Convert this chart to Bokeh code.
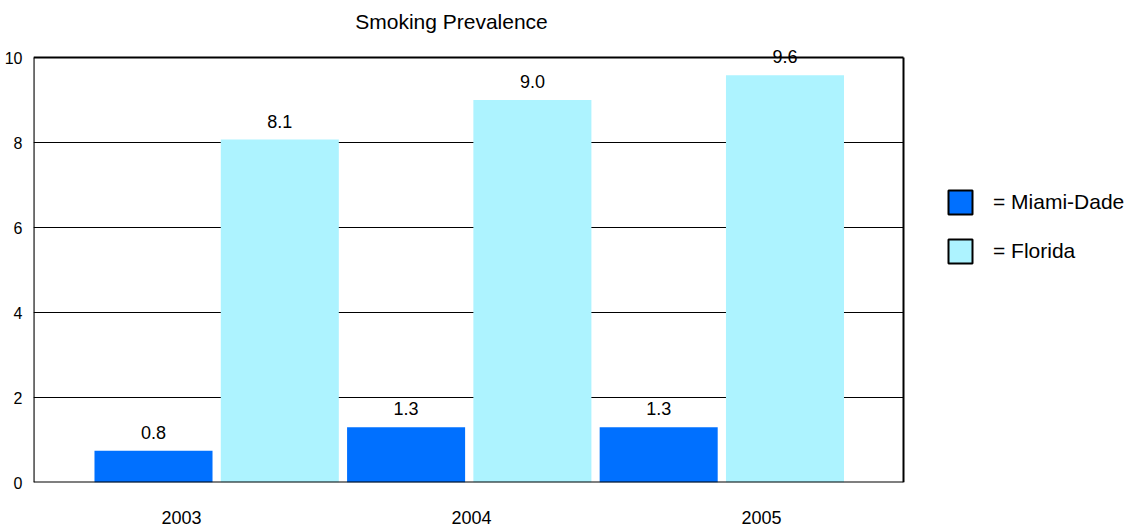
from bokeh.plotting import figure
from bokeh.models import (ColumnDataSource, FixedTicker, Legend, LegendItem,
                          LabelSet, Label, Range1d)
from bokeh.core.properties import value
from bokeh.embed import file_html
from bokeh.resources import INLINE

# ---- data ----
years = ["2003", "2004", "2005"]
miami = [0.75, 1.3, 1.3]
florida = [8.07, 9.0, 9.58]
miami_labels = ["0.8", "1.3", "1.3"]
florida_labels = ["8.1", "9.0", "9.6"]
y_ticks = [0, 2, 4, 6, 8, 10]
y_max = 10
title_text = "Smoking Prevalence"
series_names = ["= Miami-Dade", "= Florida"]

MIAMI_C = "#0070FF"
FLORIDA_C = "#ADF3FF"
FONT = "Liberation Sans"

# ---- layout (pixels) ----
W, H = 1134, 531
LEFT, BOTTOM = 33, 49
PLOT_W, PLOT_H = 870, 425          # size of the boxed chart area
frame_w, frame_h = W - LEFT, H - BOTTOM
n = len(years)
x_end = n * frame_w / PLOT_W
y_end = y_max * frame_h / PLOT_H

p = figure(width=W, height=H, output_backend="svg", toolbar_location=None,
           x_range=Range1d(0, x_end), y_range=Range1d(0, y_end),
           min_border_left=LEFT, min_border_right=0,
           min_border_top=0, min_border_bottom=BOTTOM)
p.background_fill_color = "white"
p.border_fill_color = "white"
p.outline_line_color = None

# bar layout: six evenly spaced bars
pitch = 0.4355
first = 0.4138
bw = 0.407
mx = [first + pitch * (2 * g) for g in range(n)]
fx = [first + pitch * (2 * g + 1) for g in range(n)]

ms = ColumnDataSource(dict(x=mx, top=miami, lab=miami_labels))
fs = ColumnDataSource(dict(x=fx, top=florida, lab=florida_labels))

# grid lines inside the box
inner = y_ticks[1:-1]
p.segment(x0=[0] * len(inner), x1=[n] * len(inner), y0=inner, y1=inner,
          line_color="black", line_width=1.2)

p.vbar(x="x", top="top", bottom=0, width=bw, source=ms,
       fill_color=MIAMI_C, line_color=None)
p.vbar(x="x", top="top", bottom=0, width=bw, source=fs,
       fill_color=FLORIDA_C, line_color=None)

# box: top and right border, left and bottom axis lines
p.segment(x0=[0, n], x1=[n, n], y0=[y_max, 0], y1=[y_max, y_max],
          line_color="black", line_width=2)
p.segment(x0=[0, 0], x1=[0, n], y0=[0, 0], y1=[y_max, 0],
          line_color="black", line_width=2.2)

for src in (ms, fs):
    p.add_layout(LabelSet(x="x", y="top", text="lab", source=src,
                          text_align="center", text_baseline="alphabetic",
                          y_offset=12, text_font=value(FONT),
                          text_font_size="18px", text_color="black"))

# legend dummies (NaN data: draw nothing, only used for legend swatches)
nan = float("nan")
e1 = ColumnDataSource(dict(x=[nan], top=[nan]))
e2 = ColumnDataSource(dict(x=[nan], top=[nan]))
r1 = p.vbar(x="x", top="top", width=0.1, source=e1, fill_color=MIAMI_C,
            line_color="black", line_width=2)
r2 = p.vbar(x="x", top="top", width=0.1, source=e2, fill_color=FLORIDA_C,
            line_color="black", line_width=2)
legend = Legend(items=[LegendItem(label=series_names[0], renderers=[r1]),
                       LegendItem(label=series_names[1], renderers=[r2])],
                glyph_width=30, glyph_height=30, spacing=19,
                label_standoff=18, label_text_font=FONT,
                label_text_font_size="21px", label_text_color="black",
                label_height=30,
                border_line_color=None, background_fill_alpha=0,
                padding=0, margin=0, location=(912, 216))
p.add_layout(legend, "center")

# title
p.add_layout(Label(x=418, y=frame_h - 21, x_units="screen", y_units="screen",
                   text=title_text, text_align="center",
                   text_baseline="middle", text_font=FONT,
                   text_font_size="21px", text_color="black"))

# axes (labels only; lines drawn above)
tick_pos = [i + 0.51 for i in range(n)]
p.xaxis.ticker = FixedTicker(ticks=tick_pos)
p.xaxis.major_label_overrides = {t: y for t, y in zip(tick_pos, years)}
p.yaxis.ticker = FixedTicker(ticks=y_ticks)
for ax in (p.xaxis, p.yaxis):
    ax.major_tick_line_color = None
    ax.minor_tick_line_color = None
    ax.axis_line_color = None
    ax.major_label_text_font = FONT
    ax.major_label_text_color = "black"
p.xaxis.major_label_text_font_size = "18px"
p.xaxis.major_label_standoff = 22
p.yaxis.major_label_text_font_size = "16px"
p.yaxis.major_label_standoff = 5

p.xgrid.visible = False
p.ygrid.visible = False

open("out.html", "w").write(file_html(p, INLINE))
